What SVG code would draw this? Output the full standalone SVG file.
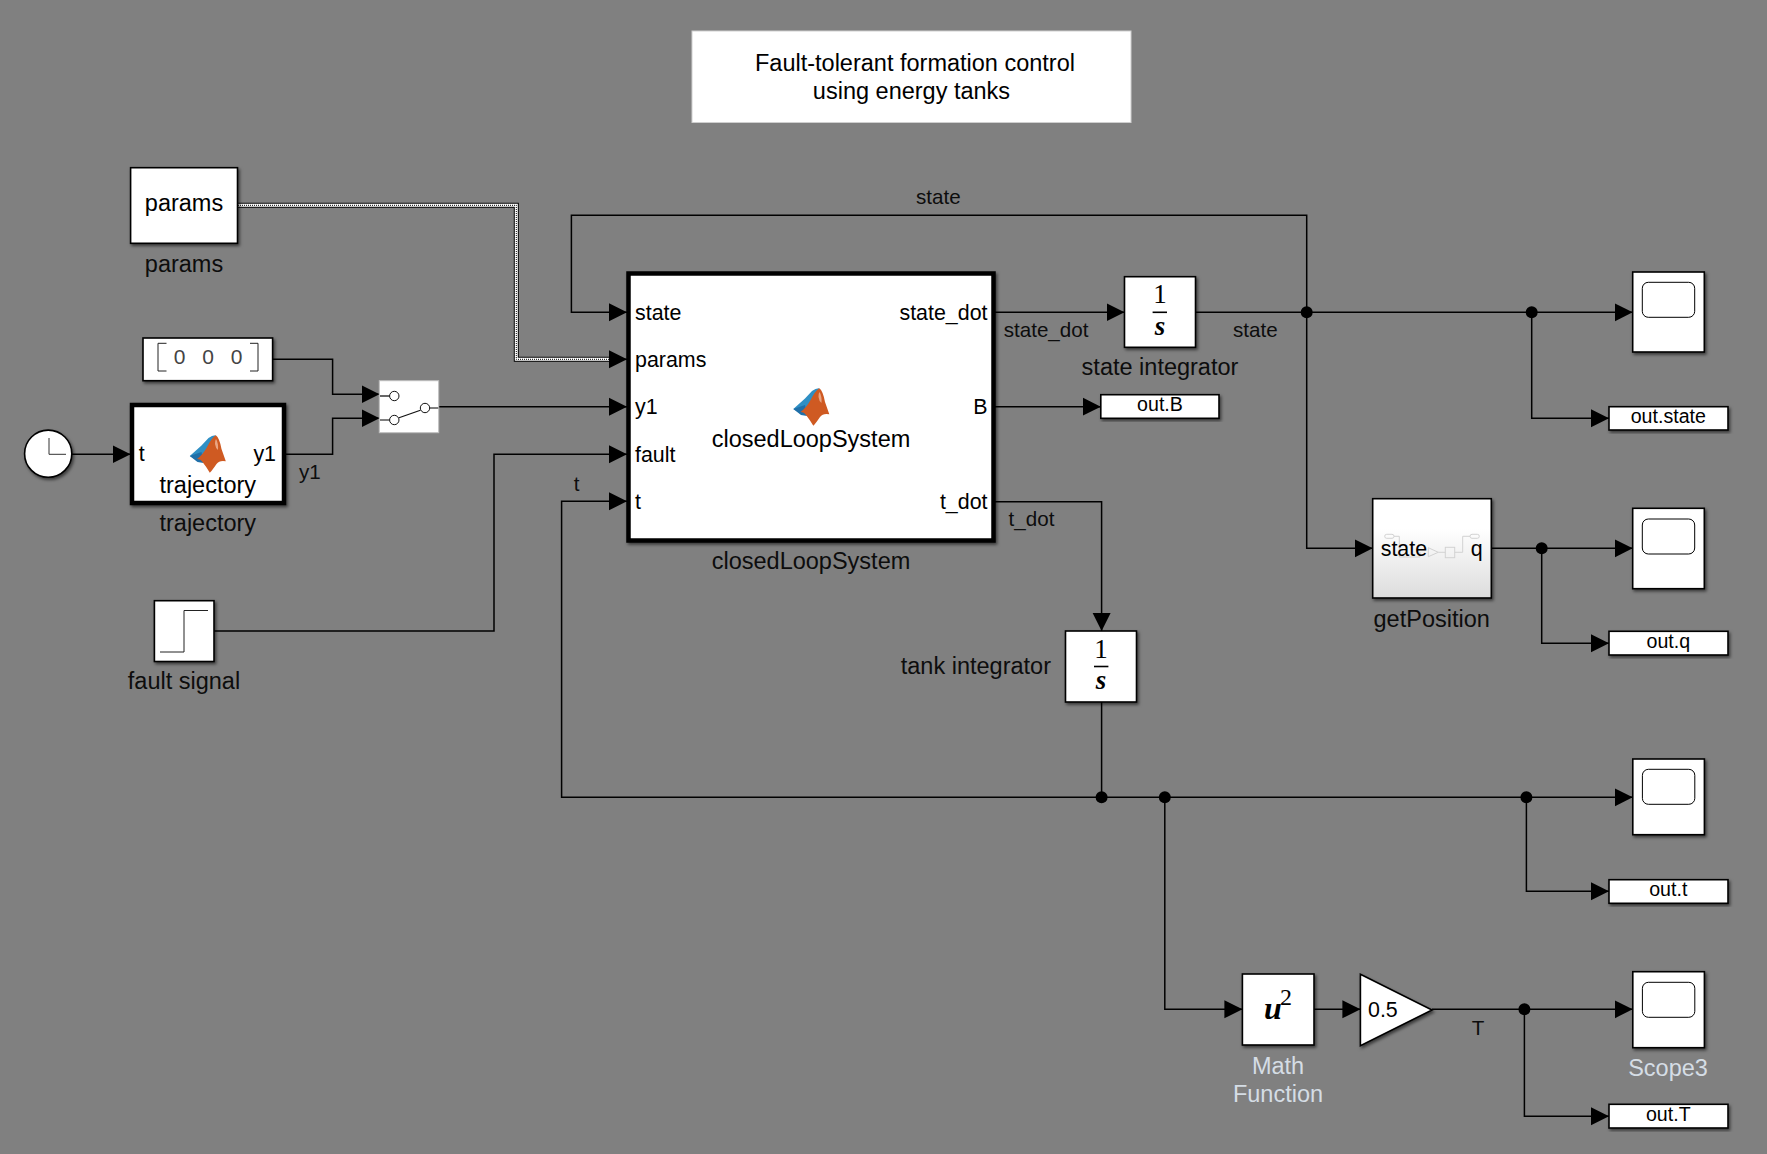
<svg xmlns="http://www.w3.org/2000/svg" xmlns:xlink="http://www.w3.org/1999/xlink" width="1767" height="1154" viewBox="0 0 1767 1154">
<defs>
<filter id="sh" x="-15%" y="-15%" width="130%" height="130%"><feDropShadow dx="1.5" dy="2" stdDeviation="1.6" flood-color="#000" flood-opacity="0.55"/></filter>
<linearGradient id="sub" x1="0" y1="0" x2="0" y2="1"><stop offset="0.3" stop-color="#fff"/><stop offset="1" stop-color="#dcdcdc"/></linearGradient>
<marker id="a" markerUnits="userSpaceOnUse" markerWidth="18" markerHeight="20" viewBox="0 0 18 20" refX="18" refY="10" orient="auto"><path d="M0 1 L18 10 L0 19 Z" fill="#000"/></marker>
<g id="logo">
<path d="M793.3 409 L805 398.5 L812 391 Q816 388 819.3 388.3 L812 400 L805 413 L800 413 Z" fill="#2f8fc4"/>
<path d="M793.3 409 L805 405 L807 416 L801 415 Z" fill="#1f6fa8"/>
<path d="M819.3 388.3 Q823 391 825 402 L829.3 414.3 Q823 413 820 417 Q816 423 813.3 425.7 Q810 420 806 415 Q804 412 800.5 412 Q806 408 810 401 Q815 391 819.3 388.3 Z" fill="#cf5a22"/>
<path d="M819.5 392 Q822 396 821.5 403 Q819 401 818.5 397 Q818.5 393 819.5 392 Z" fill="#eaa583"/>
</g>
<g id="screen"><rect x="0" y="0" width="52.4" height="35" rx="6" fill="#fff" stroke="#000" stroke-width="1"/></g>
</defs>
<style>
text{font-family:"Liberation Sans",Arial,sans-serif;font-size:23.5px;fill:#000}
.lbl{fill:#0d0d0d}
.port{font-size:21.4px}
.sig{font-size:20.6px;fill:#0d0d0d}
.out{font-size:19.6px}
.m{text-anchor:middle}
.e{text-anchor:end}
.pale{fill:#d5dde5}
.b{fill:#fff;stroke:#000;stroke-width:1.6;filter:url(#sh)}
.t{fill:#fff;stroke:#000;stroke-width:4.5;filter:url(#sh)}
.w{fill:none;stroke:#000;stroke-width:1.5}
.j{fill:#000}
.ti{font-family:"Liberation Serif","Times New Roman",serif;font-size:27px}
.tb{font-family:"Liberation Serif","Times New Roman",serif;font-size:27px;font-weight:bold;font-style:italic}
.pv{fill:none;stroke:#d2d2d2;stroke-width:1}
</style>
<rect width="1767" height="1154" fill="#808080"/>

<g id="title"><rect x="692" y="31" width="439" height="91.5" fill="#fff" stroke="#cfcfcf" stroke-width="1"/>
<text class="m" x="915" y="71">Fault-tolerant formation control</text>
<text class="m" x="911.5" y="99">using energy tanks</text></g>

<g id="connectors">
<path d="M238 205.3H516.3V359.3H610" fill="none" stroke="#000" stroke-width="5"/>
<path d="M238 205.3H516.3V359.3H610" fill="none" stroke="#fff" stroke-width="3"/>
<path d="M238 205.3H516.3V359.3H610" fill="none" stroke="#000" stroke-width="1" stroke-dasharray="1 1"/>
<path d="M610 359.3H627" class="w" marker-end="url(#a)"/>
<path d="M1306.7 312.3V215.3H571.4V312.3H627" class="w" marker-end="url(#a)"/>
<path d="M272.6 359.3H332.6V394.3H379.5" class="w" marker-end="url(#a)"/>
<path d="M285 454.3H332.6V418.3H379.5" class="w" marker-end="url(#a)"/>
<path d="M72 454.3H130.6" class="w" marker-end="url(#a)"/>
<path d="M438.7 406.7H627" class="w" marker-end="url(#a)"/>
<path d="M214 631H494V454.3H627" class="w" marker-end="url(#a)"/>
<path d="M1101.6 797.3H561.6V501.3H627" class="w" marker-end="url(#a)"/>
<path d="M994.7 312.3H1124.5" class="w" marker-end="url(#a)"/>
<path d="M994.7 406.7H1100.8" class="w" marker-end="url(#a)"/>
<path d="M994.7 501.7H1101.6V631" class="w" marker-end="url(#a)"/>
<path d="M1101.6 702V797.3" class="w"/>
<path d="M1195.5 312.3H1632.7" class="w" marker-end="url(#a)"/>
<path d="M1531.7 312.3V418.3H1609" class="w" marker-end="url(#a)"/>
<path d="M1306.7 312.3V548.3H1372.7" class="w" marker-end="url(#a)"/>
<path d="M1491.3 548.3H1632.7" class="w" marker-end="url(#a)"/>
<path d="M1541.7 548.3V643.3H1609" class="w" marker-end="url(#a)"/>
<path d="M1101.6 797.3H1632.7" class="w" marker-end="url(#a)"/>
<path d="M1526.4 797.3V891.3H1609" class="w" marker-end="url(#a)"/>
<path d="M1164.8 797.3V1009.3H1242.4" class="w" marker-end="url(#a)"/>
<path d="M1314 1009.3H1360.4" class="w" marker-end="url(#a)"/>
<path d="M1432 1009.3H1632.7" class="w" marker-end="url(#a)"/>
<path d="M1524.4 1009.3V1116.3H1609" class="w" marker-end="url(#a)"/>
<circle class="j" cx="1306.7" cy="312.3" r="6"/>
<circle class="j" cx="1531.7" cy="312.3" r="6"/>
<circle class="j" cx="1541.7" cy="548.3" r="6"/>
<circle class="j" cx="1101.6" cy="797.3" r="6"/>
<circle class="j" cx="1164.8" cy="797.3" r="6"/>
<circle class="j" cx="1526.4" cy="797.3" r="6"/>
<circle class="j" cx="1524.4" cy="1009.3" r="6"/>
<text class="sig m" x="938.4" y="204">state</text>
<text class="sig" x="1003.7" y="336.7">state_dot</text>
<text class="sig" x="1233" y="337">state</text>
<text class="sig" x="1008.6" y="525.6">t_dot</text>
<text class="sig" x="299" y="479.3">y1</text>
<text class="sig m" x="576.7" y="490.7">t</text>
<text class="sig m" x="1478" y="1034.7">T</text>
</g>

<g id="params"><rect class="b" x="130.6" y="167.7" width="106.9" height="75.6"/>
<text class="m" x="184" y="211">params</text>
<text class="m lbl" x="184" y="271.7">params</text></g>

<g id="constant"><rect class="b" x="143" y="338" width="129.6" height="42.7"/>
<path d="M166.5 343.3H158V371H166.5M250 343.3H258V371H250" fill="none" stroke="#222" stroke-width="1"/>
<text class="m" x="179.6" y="364" style="font-size:21px;fill:#444">0</text>
<text class="m" x="208" y="364" style="font-size:21px;fill:#444">0</text>
<text class="m" x="236.7" y="364" style="font-size:21px;fill:#444">0</text></g>

<g id="clock"><ellipse cx="48.2" cy="453.7" rx="23.6" ry="23.6" fill="#fff" stroke="#000" stroke-width="1.6" filter="url(#sh)"/>
<path d="M49 438V454.3H66" fill="none" stroke="#333" stroke-width="1"/></g>

<g id="trajectory"><rect class="t" x="132" y="405" width="152" height="98"/>
<use href="#logo" transform="translate(-603.5 47)"/>
<text class="port" x="138.8" y="460.7">t</text>
<text class="port e" x="276" y="460.7">y1</text>
<text class="m" x="207.8" y="493">trajectory</text>
<text class="m lbl" x="207.8" y="530.7">trajectory</text></g>

<g id="switch"><rect x="379.3" y="380.7" width="59.4" height="52" fill="#fff" stroke="#bdbdbd" stroke-width="1"/>
<path d="M380 396H389.6" stroke="#000" stroke-width="1.2"/>
<path d="M380 420H389.6M430 408H438.3" stroke="#555" stroke-width="1.6"/>
<path d="M399 417.8L420.4 410.2" stroke="#111" stroke-width="1.2"/>
<circle cx="394.3" cy="396" r="4.7" fill="#fff" stroke="#111" stroke-width="1"/>
<circle cx="394.3" cy="420" r="4.7" fill="#fff" stroke="#111" stroke-width="1"/>
<circle cx="425" cy="408" r="4.7" fill="#fff" stroke="#111" stroke-width="1"/></g>

<g id="fault-signal"><rect class="b" x="154.4" y="600.7" width="59.6" height="60.8"/>
<path d="M160 652H184V610.5H208" fill="none" stroke="#222" stroke-width="1"/>
<text class="m lbl" x="184" y="688.6">fault signal</text></g>

<g id="closedLoopSystem"><rect class="t" x="628.5" y="273.5" width="365" height="267"/>
<use href="#logo"/>
<text class="port" x="635" y="319.5">state</text>
<text class="port" x="635" y="367">params</text>
<text class="port" x="635" y="414">y1</text>
<text class="port" x="635" y="461.5">fault</text>
<text class="port" x="635" y="509">t</text>
<text class="port e" x="987.5" y="319.5">state_dot</text>
<text class="port e" x="987.5" y="414">B</text>
<text class="port e" x="987.5" y="509">t_dot</text>
<text class="m" x="811" y="446.7">closedLoopSystem</text>
<text class="m lbl" x="811" y="569.3">closedLoopSystem</text></g>

<g id="state-integrator"><rect class="b" x="1124.5" y="276.7" width="71" height="70.6"/>
<text class="ti m" x="1160" y="303.3">1</text>
<path d="M1152.6 312.3H1167" stroke="#000" stroke-width="1.6"/>
<text class="tb m" x="1160" y="335">s</text>
<text class="m lbl" x="1160" y="375">state integrator</text></g>

<g id="out-B"><rect class="b" x="1100.8" y="394.7" width="118.2" height="23.6"/>
<text class="out m" x="1160" y="411">out.B</text></g>

<g id="tank-integrator"><rect class="b" x="1065.5" y="631" width="71" height="71"/>
<text class="ti m" x="1101" y="657.6">1</text>
<path d="M1094 666.5H1108.4" stroke="#000" stroke-width="1.6"/>
<text class="tb m" x="1101" y="689.3">s</text>
<text class="lbl e" x="1051" y="674">tank integrator</text></g>

<g id="scope1"><rect class="b" x="1632.7" y="272" width="71.6" height="80"/>
<use href="#screen" x="1642.3" y="282.3"/></g>
<g id="out-state"><rect class="b" x="1609" y="406.7" width="119" height="23.3"/>
<text class="out m" x="1668.3" y="422.7">out.state</text></g>

<g id="getPosition"><rect x="1372.7" y="498.7" width="118.6" height="99.3" fill="url(#sub)" stroke="#000" stroke-width="1.6" filter="url(#sh)"/>
<rect class="pv" x="1384.7" y="534.3" width="9.3" height="4" rx="2"/>
<path class="pv" d="M1394 536.3H1399.3V557H1405.7H1420V552"/>
<path class="pv" d="M1428.3 547.7L1438.3 552.3L1428.3 556.7ZM1438.3 552.3H1445.3"/>
<rect class="pv" x="1445.3" y="547.3" width="9.4" height="10.4"/>
<path class="pv" d="M1454.7 552.3H1462.7V536.3H1470"/>
<rect class="pv" x="1470" y="534.3" width="9.3" height="4" rx="2"/>
<text class="port" x="1380.7" y="555.7">state</text>
<text class="port e" x="1482.7" y="555.7">q</text>
<text class="m lbl" x="1431.7" y="626.7">getPosition</text></g>

<g id="scope2"><rect class="b" x="1632.7" y="508.3" width="71.6" height="80.4"/>
<use href="#screen" x="1642.3" y="519"/></g>
<g id="out-q"><rect class="b" x="1609" y="631.3" width="119" height="23.7"/>
<text class="out m" x="1668.3" y="647.7">out.q</text></g>

<g id="scope-t"><rect class="b" x="1632.8" y="759" width="71.6" height="75.7"/>
<use href="#screen" x="1642.4" y="769.3" transform="translate(0 0)"/></g>
<g id="out-t"><rect class="b" x="1609" y="879.7" width="119" height="23.6"/>
<text class="out m" x="1668.3" y="895.7">out.t</text></g>

<g id="math-function"><rect class="b" x="1242.4" y="974" width="71.6" height="71"/>
<text class="tb" x="1264" y="1019" style="font-size:32px">u</text>
<text class="ti" x="1280" y="1005" style="font-size:24px">2</text>
<text class="m pale" x="1278" y="1074">Math</text>
<text class="m pale" x="1278" y="1102">Function</text></g>

<g id="gain"><path d="M1360.4 974.3L1432 1010L1360.4 1045.7Z" fill="#fff" stroke="#000" stroke-width="1.6" filter="url(#sh)"/>
<text class="port" x="1368" y="1017.3">0.5</text></g>

<g id="scope3"><rect class="b" x="1632.8" y="971.7" width="71.6" height="76"/>
<use href="#screen" x="1642.4" y="982.3"/>
<text class="m pale" x="1668" y="1075.7">Scope3</text></g>
<g id="out-T"><rect class="b" x="1609" y="1104.3" width="119" height="23.7"/>
<text class="out m" x="1668.3" y="1121">out.T</text></g>
</svg>
